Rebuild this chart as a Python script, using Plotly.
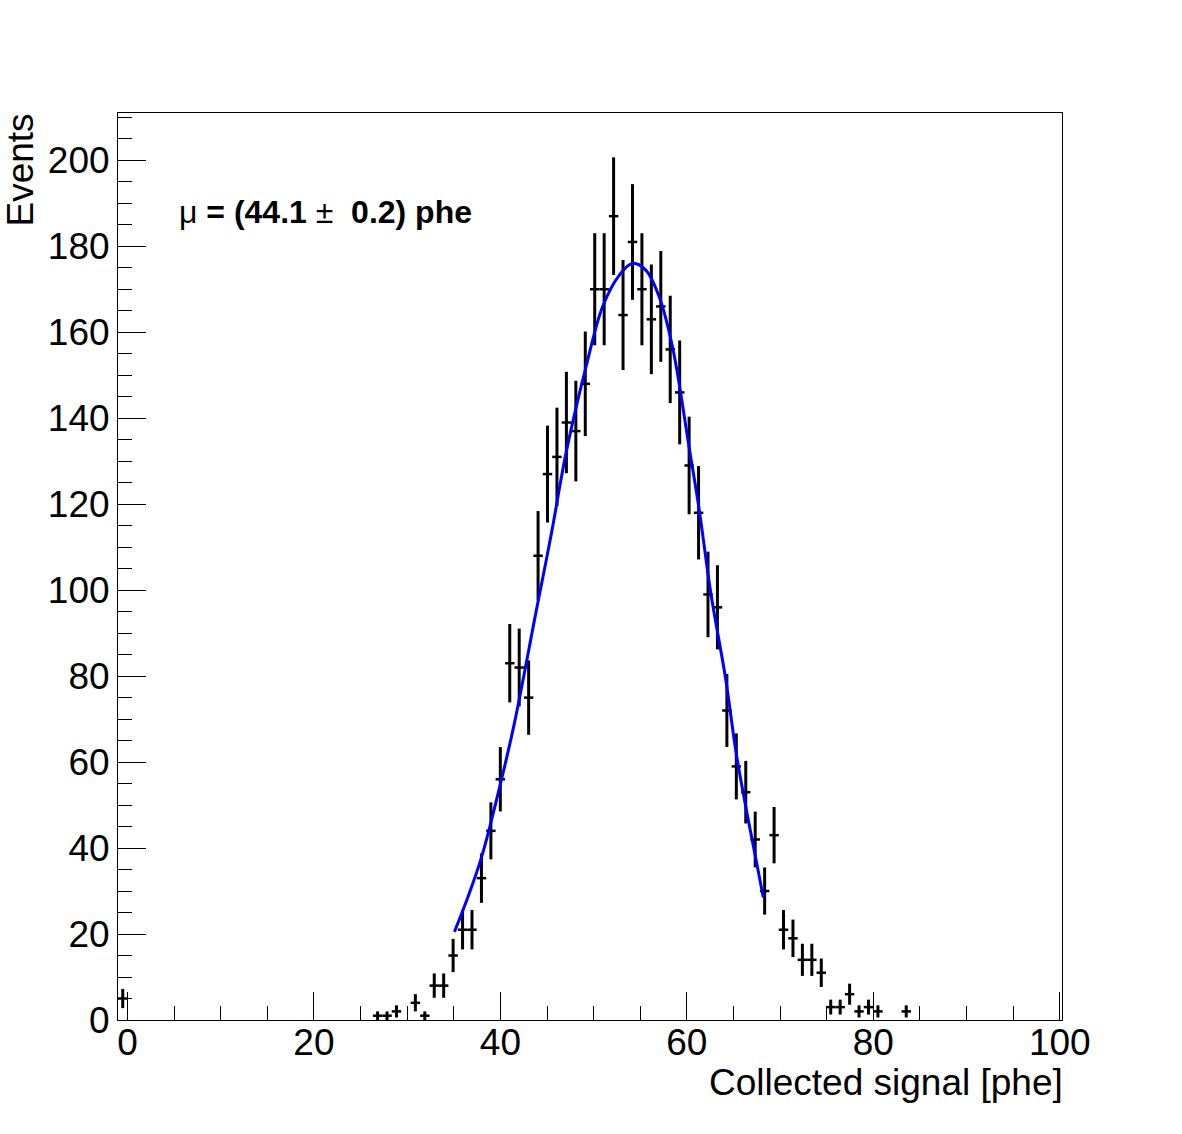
import numpy as np
import plotly.graph_objects as go

# ---------------- data ----------------
BIN_WIDTH = 1.0125
bin_index = [-1, 26, 27, 28, 30, 31, 32, 33, 34, 35, 36, 37, 38, 39, 40, 41, 42, 43,
             44, 45, 46, 47, 48, 49, 50, 51, 52, 53, 54, 55, 56, 57, 58, 59, 60, 61,
             62, 63, 64, 65, 66, 67, 68, 69, 70, 71, 72, 73, 74, 75, 76, 77, 78, 79, 82]
counts = [5, 1, 1, 2, 4, 1, 8, 8, 15, 21, 21, 33, 44, 56, 83, 82, 75, 108,
          127, 131, 139, 137, 148, 170, 170, 187, 164, 181, 170, 163, 166, 156, 146, 129, 118, 99,
          96, 72, 59, 53, 42, 30, 43, 21, 19, 14, 14, 11, 3, 3, 6, 2, 3, 2, 2]

# fitted curve, points
fit_x = [35.07, 36.5, 38.0, 39.9, 41.5, 43.83, 45.5, 47.05, 49.19, 50.97, 52.76, 54.15,
         55.62, 57.04, 58.47, 60.26, 61.33, 62.58, 64.19, 65.26, 66.33, 67.4, 68.2]
fit_y = [20.5, 28.5, 38.0, 54.0, 69.0, 95.0, 113.5, 132.0, 152.0, 166.0, 173.3, 176.0,
         174.4, 168.2, 156.5, 133.0, 118.6, 99.2, 79.0, 62.5, 49.5, 37.5, 28.5]

x_title = "Collected signal [phe]"
y_title = "Events"
label_text = "μ\u00a0<b>=\u00a0(44.1</b>\u00a0±\u00a0\u00a0<b>0.2)\u00a0phe</b>"

X_RANGE = [-1.0125, 100.2375]
Y_RANGE = [0, 211]

# ---------------- figure ----------------
centers = (np.array(bin_index) + 0.5) * BIN_WIDTH
yerr = np.sqrt(np.array(counts, dtype=float))
xerr = np.full(len(counts), BIN_WIDTH / 2)

FONT = "Liberation Sans, Arial, Helvetica, sans-serif"

fig = go.Figure()
fig.add_trace(go.Scatter(
    x=centers, y=counts, mode="markers",
    marker=dict(size=1, color="black"),
    error_y=dict(type="data", array=yerr, visible=True, thickness=3, width=0, color="black"),
    error_x=dict(type="data", array=xerr, visible=True, thickness=2.5, width=0, color="black"),
    showlegend=False, cliponaxis=True,
))
fig.add_trace(go.Scatter(
    x=fit_x, y=fit_y, mode="lines",
    line=dict(color="#0000ff", width=3, shape="spline", smoothing=1.0),
    showlegend=False,
))

axis_common = dict(
    showline=True, linecolor="black", linewidth=1, mirror=True,
    ticks="inside", ticklen=28, tickwidth=1, tickcolor="black",
    showgrid=False, zeroline=False,
    tickfont=dict(family=FONT, size=37, color="black"),
    minor=dict(ticks="inside", ticklen=14, tickwidth=1, tickcolor="black", showgrid=False),
)

fig.update_xaxes(range=X_RANGE, tick0=0, dtick=20, ticklabelstandoff=-10, **axis_common)
fig.update_xaxes(minor=dict(dtick=5, tick0=0))
fig.update_yaxes(range=Y_RANGE, tick0=0, dtick=20, **axis_common)
fig.update_yaxes(minor=dict(dtick=5, tick0=0))

L, R, T, B = 118, 120, 113, 114
W, H = 1182, 1134
pw, ph = W - L - R, H - T - B

def px_to_paper_x(px):
    return (px - L) / pw

def px_to_paper_y(py):
    return (H - B - py) / ph

fig.add_annotation(text=x_title, xref="paper", yref="paper",
                   x=1.0, y=px_to_paper_y(1082), xanchor="right", yanchor="middle", xshift=3,
                   showarrow=False, font=dict(family=FONT, size=37, color="black"))
fig.add_annotation(text=y_title, xref="paper", yref="paper", textangle=-90,
                   x=px_to_paper_x(20), y=px_to_paper_y(112), xanchor="center", yanchor="top",
                   showarrow=False, font=dict(family=FONT, size=37, color="black"))
fig.add_annotation(text=label_text, xref="paper", yref="paper",
                   x=px_to_paper_x(177), y=px_to_paper_y(212), xanchor="left", yanchor="middle",
                   showarrow=False, font=dict(family=FONT, size=32, color="black"))

fig.update_layout(
    width=W, height=H,
    margin=dict(l=L, r=R, t=T, b=B, pad=0),
    paper_bgcolor="white", plot_bgcolor="white",
    font=dict(family=FONT, color="black"),
)

fig.write_html("out.html")
